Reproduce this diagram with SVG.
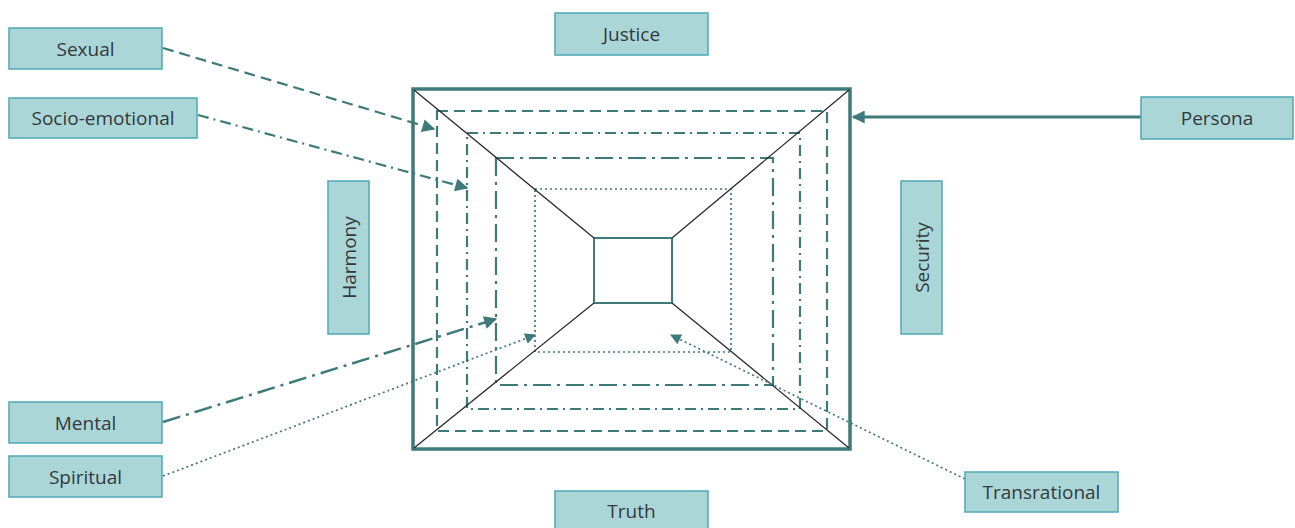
<svg xmlns="http://www.w3.org/2000/svg" width="1295" height="528" viewBox="0 0 1295 528">
  <defs>
    <style>
      .box { fill: #aad6d8; stroke: #4ea9b4; stroke-width: 1.5; }
      .lbl { font-family: "Open Sans", "Noto Sans", sans-serif; font-size: 19px; fill: #34393c; text-anchor: middle; dominant-baseline: central; }
      .ln { fill: none; stroke: #3f7a7a; }
      .dash { stroke-dasharray: 11 6; }
      .dashdot { stroke-dasharray: 11 5 2 5; }
      .longdashdot { stroke-dasharray: 18 6 3 6; }
      .dot { stroke-dasharray: 2 3; }
      .diag { stroke: #2b2b2b; stroke-width: 1.3; fill: none; }
    </style>
    <marker id="arrowS" viewBox="0 0 10 10" refX="9" refY="5" markerWidth="11" markerHeight="11" orient="auto" markerUnits="userSpaceOnUse">
      <path d="M0,0 L10,5 L0,10 z" fill="#3f7a7a"/>
    </marker>
    <marker id="arrowL" viewBox="0 0 10 10" refX="9" refY="5" markerWidth="14" markerHeight="13" orient="auto" markerUnits="userSpaceOnUse">
      <path d="M0,0 L10,5 L0,10 z" fill="#3f7a7a"/>
    </marker>
  </defs>

  <!-- nested frames -->
  <g id="frame">
    <rect class="ln" x="413" y="89" width="437" height="360" stroke-width="3.5"/>
    <rect class="ln dash" x="437" y="111" width="390" height="320" stroke-width="2.2"/>
    <rect class="ln dashdot" x="467" y="133" width="333" height="276" stroke-width="2.2"/>
    <rect class="ln longdashdot" x="496" y="158" width="277" height="227" stroke-width="2.2"/>
    <rect class="ln dot" x="535" y="189" width="196" height="163" stroke-width="1.7"/>
    <rect class="ln" x="594" y="238" width="78" height="65" stroke-width="2"/>
    <line class="diag" x1="414" y1="90" x2="594" y2="238"/>
    <line class="diag" x1="849" y1="90" x2="672" y2="238"/>
    <line class="diag" x1="414" y1="448" x2="594" y2="303"/>
    <line class="diag" x1="849" y1="448" x2="672" y2="303"/>
  </g>

  <!-- connectors -->
  <g id="connectors">
    <line class="ln dash" x1="163" y1="48" x2="434" y2="129" stroke-width="2.2" marker-end="url(#arrowL)"/>
    <line class="ln dashdot" x1="198" y1="115" x2="467" y2="188" stroke-width="2.2" marker-end="url(#arrowL)"/>
    <line class="ln longdashdot" x1="163" y1="422" x2="496" y2="319" stroke-width="2.4" marker-end="url(#arrowL)"/>
    <line class="ln dot" x1="163" y1="476" x2="535" y2="335" stroke-width="1.7" marker-end="url(#arrowS)"/>
    <line class="ln dot" x1="965" y1="479" x2="671" y2="335" stroke-width="1.7" marker-end="url(#arrowS)"/>
    <line class="ln" x1="1141" y1="117" x2="853" y2="117" stroke-width="3" marker-end="url(#arrowL)"/>
  </g>

  <g id="sexual">
    <rect class="box" x="9" y="28" width="153" height="41"/>
    <text class="lbl" x="85.5" y="48.5">Sexual</text>
  </g>
  <g id="socio-emotional">
    <rect class="box" x="9" y="98" width="188" height="40"/>
    <text class="lbl" x="103" y="118">Socio-emotional</text>
  </g>
  <g id="mental">
    <rect class="box" x="9" y="402" width="153" height="41"/>
    <text class="lbl" x="85.5" y="422.5">Mental</text>
  </g>
  <g id="spiritual">
    <rect class="box" x="9" y="456" width="153" height="41"/>
    <text class="lbl" x="85.5" y="476.5">Spiritual</text>
  </g>
  <g id="justice">
    <rect class="box" x="555" y="13" width="153" height="42"/>
    <text class="lbl" x="631.5" y="34">Justice</text>
  </g>
  <g id="truth">
    <rect class="box" x="555" y="491" width="153" height="42"/>
    <text class="lbl" x="631.5" y="511">Truth</text>
  </g>
  <g id="persona">
    <rect class="box" x="1141" y="97" width="152" height="42"/>
    <text class="lbl" x="1217" y="118">Persona</text>
  </g>
  <g id="harmony">
    <rect class="box" x="328" y="181" width="41" height="153"/>
    <text class="lbl" transform="translate(348.5 257.5) rotate(-90)">Harmony</text>
  </g>
  <g id="security">
    <rect class="box" x="901" y="181" width="41" height="153"/>
    <text class="lbl" transform="translate(921.5 257.5) rotate(-90)">Security</text>
  </g>
  <g id="transrational">
    <rect class="box" x="965" y="472" width="153" height="40"/>
    <text class="lbl" x="1041.5" y="492">Transrational</text>
  </g>
</svg>
